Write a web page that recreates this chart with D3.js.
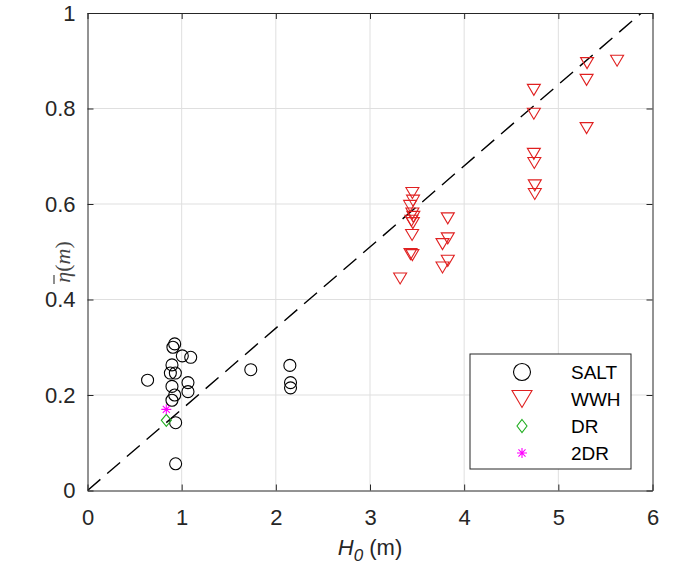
<!DOCTYPE html>
<html>
<head>
<meta charset="utf-8">
<script src="https://cdn.jsdelivr.net/npm/d3@7"></script>
<style>
  body { margin: 0; background: #fff; }
  svg { font-family: "Liberation Sans", Arial, sans-serif; }
</style>
</head>
<body>
<div id="chart"></div>
<script>
// data
const saltX = [0.926, 0.907, 1.007, 1.096, 0.897, 0.88, 0.933, 0.638, 1.067, 0.897, 1.067, 0.926, 0.897, 0.936, 0.936, 1.734, 2.149, 2.156, 2.156];
const saltY = [0.307, 0.300, 0.282, 0.279, 0.263, 0.246, 0.246, 0.231, 0.226, 0.218, 0.207, 0.200, 0.189, 0.142, 0.056, 0.253, 0.262, 0.226, 0.215];

const wwhX = [3.45, 3.457, 3.426, 3.45, 3.46, 3.44, 3.455, 3.447, 3.43, 3.45, 3.32,
              3.826, 3.826, 3.77, 3.826, 3.77,
              4.74, 4.74, 4.74, 4.745, 4.75, 4.75,
              5.305, 5.30, 5.30, 5.624];
const wwhY = [0.623, 0.607, 0.596, 0.580, 0.573, 0.565, 0.560, 0.535, 0.495, 0.493, 0.444,
              0.570, 0.528, 0.516, 0.481, 0.467,
              0.839, 0.789, 0.705, 0.686, 0.639, 0.621,
              0.895, 0.860, 0.759, 0.900];

const drX = [0.837], drY = [0.147];
const dr2X = [0.837], dr2Y = [0.170];

const fitSlope = 0.17;
const xTicks = [0, 1, 2, 3, 4, 5, 6];
const yTicks = [0, 0.2, 0.4, 0.6, 0.8, 1];
const legendNames = ["SALT", "WWH", "DR", "2DR"];

const width = 678, height = 568;
const margin = { top: 13, right: 25.5, bottom: 77.5, left: 87.5 };

const svg = d3.select("#chart").append("svg")
    .attr("width", width)
    .attr("height", height);

const x = d3.scaleLinear().domain([0, 6]).range([margin.left, width - margin.right]);
const y = d3.scaleLinear().domain([0, 1]).range([height - margin.bottom, margin.top]);

const axisColor = "#262626";

// grid
svg.append("g").selectAll("line.gx").data(xTicks.slice(1, -1)).join("line")
    .attr("x1", d => x(d)).attr("x2", d => x(d))
    .attr("y1", y(0)).attr("y2", y(1))
    .attr("stroke", "#dfdfdf").attr("stroke-width", 1);
svg.append("g").selectAll("line.gy").data(yTicks.slice(1, -1)).join("line")
    .attr("x1", x(0)).attr("x2", x(6))
    .attr("y1", d => y(d)).attr("y2", d => y(d))
    .attr("stroke", "#dfdfdf").attr("stroke-width", 1);

// clip
svg.append("clipPath").attr("id", "clip").append("rect")
    .attr("x", x(0)).attr("y", y(1))
    .attr("width", x(6) - x(0)).attr("height", y(0) - y(1));

// fit dashed line
svg.append("line")
    .attr("clip-path", "url(#clip)")
    .attr("x1", x(0)).attr("y1", y(0))
    .attr("x2", x(1 / fitSlope)).attr("y2", y(1))
    .attr("stroke", "#000").attr("stroke-width", 1.4)
    .attr("stroke-dasharray", "17,9");

// axes
const xAxis = g => g
    .attr("transform", `translate(0,${y(0)})`)
    .call(d3.axisBottom(x).tickValues(xTicks).tickFormat(d3.format("d")).tickSizeInner(-6).tickSizeOuter(0).tickPadding(19))
    .call(g => g.select(".domain").attr("stroke", axisColor))
    .call(g => g.selectAll(".tick line").attr("stroke", axisColor))
    .call(g => g.selectAll(".tick text").attr("fill", axisColor).attr("font-size", "22px").attr("dy", "0.71em"));

const yAxis = g => g
    .attr("transform", `translate(${x(0)},0)`)
    .call(d3.axisLeft(y).tickValues(yTicks).tickFormat(d => d === 0 || d === 1 ? d3.format("d")(d) : d3.format(".1f")(d)).tickSizeInner(-6).tickSizeOuter(0).tickPadding(12))
    .call(g => g.select(".domain").attr("stroke", axisColor))
    .call(g => g.selectAll(".tick line").attr("stroke", axisColor))
    .call(g => g.selectAll(".tick text").attr("fill", axisColor).attr("font-size", "22px"));

svg.append("g").call(xAxis);
svg.append("g").call(yAxis);

// top and right box with inward ticks
svg.append("g").attr("transform", `translate(0,${y(1)})`)
    .call(d3.axisTop(x).tickValues(xTicks).tickSizeInner(-6).tickSizeOuter(0).tickFormat(""))
    .call(g => g.selectAll("path,line").attr("stroke", axisColor));
svg.append("g").attr("transform", `translate(${x(6)},0)`)
    .call(d3.axisRight(y).tickValues(yTicks).tickSizeInner(-6).tickSizeOuter(0).tickFormat(""))
    .call(g => g.selectAll("path,line").attr("stroke", axisColor));

// marker shapes
function triPath(w, h) {
    return `M${-w / 2},${-h / 2}L${w / 2},${-h / 2}L0,${h / 2}Z`;
}
function diamondPath(w, h) {
    return `M0,${-h / 2}L${w / 2},0L0,${h / 2}L${-w / 2},0Z`;
}
function starPath(r) {
    let p = "";
    for (let i = 0; i < 4; i++) {
        const a = i * Math.PI / 4;
        p += `M${-r * Math.cos(a)},${-r * Math.sin(a)}L${r * Math.cos(a)},${r * Math.sin(a)}`;
    }
    return p;
}

const marks = svg.append("g");

marks.selectAll("circle.salt").data(d3.range(saltX.length)).join("circle")
    .attr("cx", i => x(saltX[i])).attr("cy", i => y(saltY[i]))
    .attr("r", 6).attr("fill", "none").attr("stroke", "#000").attr("stroke-width", 1.1);

marks.selectAll("path.wwh").data(d3.range(wwhX.length)).join("path")
    .attr("transform", i => `translate(${x(wwhX[i])},${y(wwhY[i])})`)
    .attr("d", triPath(13, 11)).attr("fill", "none").attr("stroke", "#e02020").attr("stroke-width", 1.1);

marks.selectAll("path.dr").data(d3.range(drX.length)).join("path")
    .attr("transform", i => `translate(${x(drX[i])},${y(drY[i])})`)
    .attr("d", diamondPath(10, 12)).attr("fill", "none").attr("stroke", "#1fae1f").attr("stroke-width", 1.1);

marks.selectAll("path.dr2").data(d3.range(dr2X.length)).join("path")
    .attr("transform", i => `translate(${x(dr2X[i])},${y(dr2Y[i])})`)
    .attr("d", starPath(5)).attr("fill", "none").attr("stroke", "#ff00ff").attr("stroke-width", 1.1);

// legend
const lg = svg.append("g").attr("transform", "translate(470,354)");
lg.append("rect").attr("width", 161).attr("height", 115)
    .attr("fill", "#fff").attr("stroke", axisColor).attr("stroke-width", 1);

const legendRows = legendNames.map((name, i) => ({ name, yPos: 18 + i * 27, i }));
const lgRow = lg.selectAll("g.row").data(legendRows).join("g")
    .attr("transform", d => `translate(0,${d.yPos})`);

lgRow.each(function (d) {
    const g = d3.select(this);
    if (d.i === 0) {
        g.append("circle").attr("cx", 52).attr("cy", 0).attr("r", 8.5)
            .attr("fill", "none").attr("stroke", "#000").attr("stroke-width", 1.1);
    } else if (d.i === 1) {
        g.append("path").attr("transform", "translate(52,0)").attr("d", triPath(20, 17))
            .attr("fill", "none").attr("stroke", "#e02020").attr("stroke-width", 1.1);
    } else if (d.i === 2) {
        g.append("path").attr("transform", "translate(52,0)").attr("d", diamondPath(10, 13))
            .attr("fill", "none").attr("stroke", "#1fae1f").attr("stroke-width", 1.1);
    } else {
        g.append("path").attr("transform", "translate(52,0)").attr("d", starPath(5))
            .attr("fill", "none").attr("stroke", "#ff00ff").attr("stroke-width", 1.1);
    }
    g.append("text").attr("x", 101).attr("y", 0).attr("dy", "0.36em")
        .attr("font-size", "19px").attr("fill", "#000").text(d.name);
});

// axis labels
const xl = svg.append("text")
    .attr("x", 370).attr("y", 555)
    .attr("text-anchor", "middle")
    .attr("font-size", "22px").attr("fill", axisColor);
xl.append("tspan").attr("font-style", "italic").text("H");
xl.append("tspan").attr("font-style", "italic").attr("font-size", "17px").attr("dy", 6).text("0");
xl.append("tspan").attr("dy", -6).text(" (m)");

const ylg = svg.append("g").attr("transform", "translate(70,262) rotate(-90)");
const yl = ylg.append("text")
    .attr("text-anchor", "middle")
    .attr("font-family", "'Liberation Serif', 'DejaVu Serif', serif")
    .attr("font-size", "22px").attr("fill", "#444");
yl.append("tspan").attr("font-style", "italic").text("η");
yl.append("tspan").text("(");
yl.append("tspan").attr("font-style", "italic").text("m");
yl.append("tspan").text(")");
// bar over eta
ylg.append("line")
    .attr("x1", -22).attr("x2", -13).attr("y1", -16).attr("y2", -16)
    .attr("stroke", "#444").attr("stroke-width", 1.2);
</script>
</body>
</html>
